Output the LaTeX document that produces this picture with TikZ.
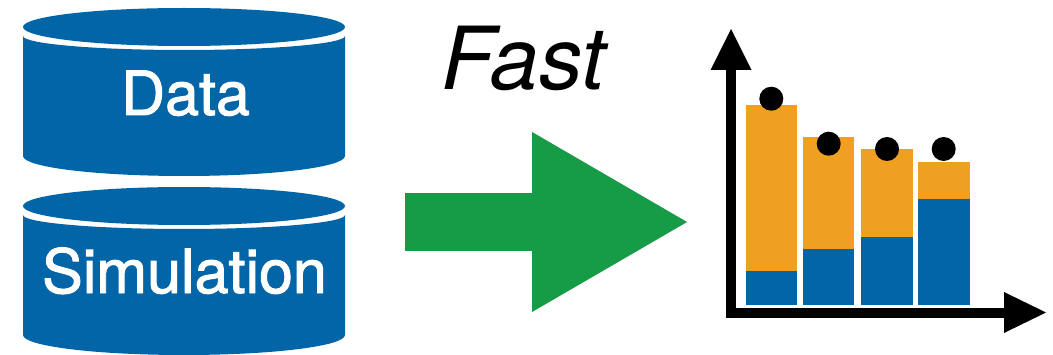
\documentclass[tikz,border=0pt]{standalone}
\usepackage{fontspec}
\setmainfont{TeX Gyre Heros}
\usepackage{xcolor}
\usetikzlibrary{arrows.meta}
\definecolor{dbblue}{HTML}{0265A7}
\definecolor{barorange}{HTML}{F0A020}
\definecolor{fastgreen}{HTML}{169C46}

\begin{document}
\begin{tikzpicture}[
  x=1pt,y=1pt,
  dblabel/.style  ={text=white,font=\fontsize{61}{61}\selectfont\addfontfeature{FakeBold=1.6},
                    anchor=base,inner sep=0pt},
  speedlbl/.style ={font=\fontsize{87}{87}\selectfont\itshape,anchor=base,inner sep=0pt},
  dbpart/.style   ={fill=dbblue},
  lower/.style    ={fill=dbblue},
  upper/.style    ={fill=barorange},
  axis/.style     ={line width=10pt,
                    {Triangle[length=41pt,width=41pt,line width=0pt]}-{Triangle[length=42pt,width=41pt,line width=0pt]}},
  flow/.style     ={line width=58pt,-{Triangle[length=155pt,width=180pt,line width=0pt]}}]

\useasboundingbox (0,0) rectangle (1053,354);

% ---------- Databases ----------
\foreach \yc in {327,148} {
  \fill[dbpart] (184,\yc) ellipse [x radius=161,y radius=19];
  \fill[dbpart] (23,\yc-9) arc [start angle=180,end angle=360,x radius=161,y radius=14]
    -- (345,\yc-129) arc [start angle=0,end angle=-180,x radius=161,y radius=20] -- cycle;
}
\node[dblabel] (data) at (185.5,239) {Data};
\node[dblabel] (sim)  at (184.5,61)  {Simulation};

% ---------- Arrow ----------
\node[speedlbl] (fast) at (523.5,264) {Fast};
\coordinate (flowstart) at (405,132);
\coordinate (flowtip)   at (687,132);
\draw[flow,draw=black,fill=black,opacity=.18,yshift=-1.5pt] (flowstart) -- (flowtip);
\draw[flow,draw=fastgreen,fill=fastgreen] (flowstart) -- (flowtip);

% ---------- Bars ----------
\foreach \bx/\bs/\bt in {745.5/83.3/249,802.7/105.3/217,861/117/205,918/155/191.7} {
  \fill[lower] (\bx,49) rectangle (\bx+51.5,\bs);
  \fill[upper] (\bx,\bs) rectangle (\bx+51.5,\bt);
}
\foreach \dx/\dy in {771.3/255.3,828.7/210.3,887/205,943.7/205}
  \fill (\dx,\dy) circle (12);

% ---------- Axes ----------
\coordinate (ytip)   at (731,325);
\coordinate (origin) at (731,41.5);
\coordinate (xtip)   at (1046,41.5);
\draw[axis] (ytip) -- (origin) -- (xtip);

\end{tikzpicture}
\end{document}
